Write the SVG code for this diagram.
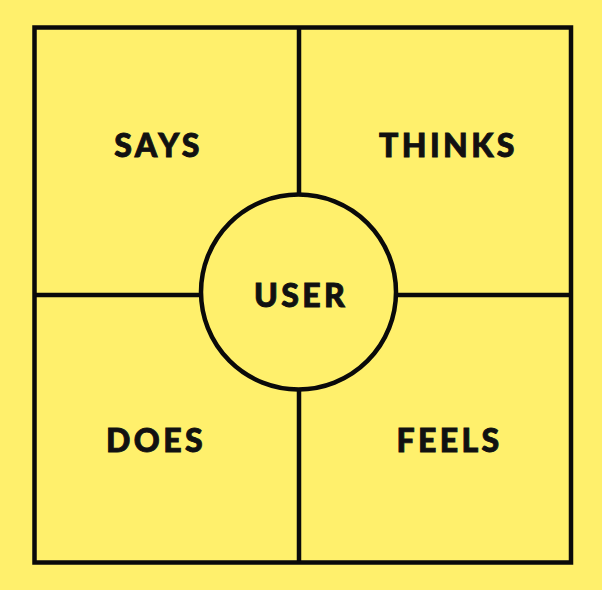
<svg xmlns="http://www.w3.org/2000/svg" width="602" height="590" viewBox="0 0 602 590">
<style>
.ln{stroke:#0a0a0a;stroke-width:4.5;fill:none}
.lbl{font-family:Lato,"Noto Sans","DejaVu Sans",sans-serif;font-weight:900;font-size:32px;letter-spacing:3.4px;fill:#111;stroke:#111;stroke-width:0.9;text-anchor:middle}
</style>
<rect width="602" height="590" fill="#FFF06C"/>
<g id="connectors">
<line class="ln" x1="299" y1="27.5" x2="299" y2="562.5"/>
<line class="ln" x1="34.5" y1="295" x2="571" y2="295"/>
</g>
<g id="frame">
<rect class="ln" x="34.5" y="27.5" width="536.5" height="535"/>
</g>
<g id="says"><text class="lbl" x="158.5" y="157">SAYS</text></g>
<g id="thinks"><text class="lbl" x="448.5" y="157">THINKS</text></g>
<g id="does"><text class="lbl" x="156" y="452">DOES</text></g>
<g id="feels"><text class="lbl" x="449.5" y="452">FEELS</text></g>
<g id="user">
<circle cx="298.5" cy="292" r="97.5" fill="#FFF06C" stroke="#0a0a0a" stroke-width="4.5"/>
<text class="lbl" x="301" y="307">USER</text>
</g>
</svg>
